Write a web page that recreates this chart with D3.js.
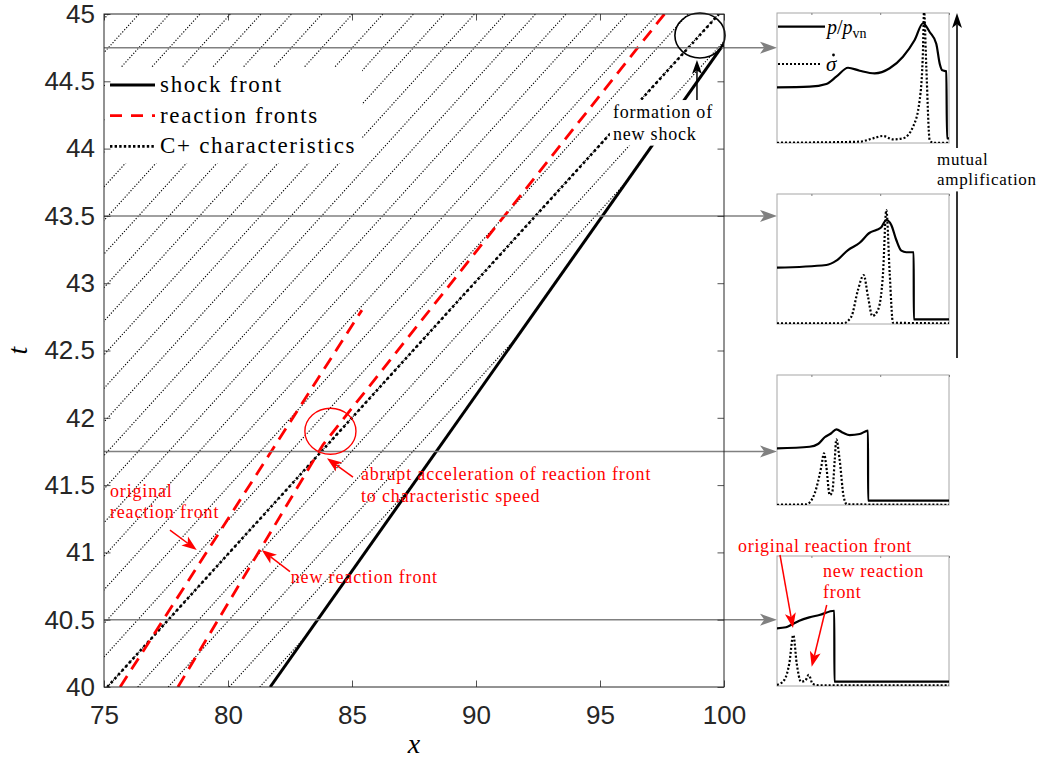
<!DOCTYPE html>
<html>
<head>
<meta charset="utf-8" />
<title>reaction fronts</title>
<script src="https://d3js.org/d3.v7.min.js"></script>
<style>
  body { margin: 0; background: #fff; }
</style>
</head>
<body>
<div id="chart"></div>
<script>
// ---- main x-t diagram ----
const xTicks = [75, 80, 85, 90, 95, 100];
const tTicks = [40, 40.5, 41, 41.5, 42, 42.5, 43, 43.5, 44, 44.5, 45];

const shockX = [81.7, 100.0];
const shockT = [40.0, 44.78];
const cPlusX = [75.13, 99.8];
const cPlusT = [40.0, 45.0];
const originalFrontX = [75.65, 85.4];
const originalFrontT = [40.0, 42.8];
const newFrontX = [77.98, 83.83, 97.6];
const newFrontT = [40.0, 41.8, 45.0];

// thin C+ characteristics: x where each crosses t = 40 and t = 45
const hatchX40 = [50.53, 51.76, 52.99, 54.22, 55.45, 56.68, 57.91, 59.14, 60.37, 61.60,
                  62.83, 64.06, 65.29, 66.52, 67.75, 68.98, 70.21, 71.44, 72.67, 73.90,
                  75.13, 76.36, 77.59, 78.82, 80.05, 81.28];
const hatchX45 = [75.18, 76.41, 77.64, 78.87, 80.10, 81.33, 82.56, 83.79, 85.02, 86.25,
                  87.48, 88.71, 89.94, 91.17, 92.40, 93.63, 94.86, 96.09, 97.32, 98.55,
                  99.78, 101.0, 102.2, 103.5, 104.7, 105.9];

// times of the four profiles
const insetTimes = [44.75, 43.5, 41.75, 40.5];

// ---- profiles (x relative, normalised values) ----
const pX1 = [-5, -0.25, 2.17, 3.62, 5.32, 7.02, 9.2, 11.38, 13.31, 15.01, 16.22, 17.19, 18.15, 18.65, 19.03, 19.61, 19.71, 20];
const p1  = [0.428, 0.433, 0.454, 0.51, 0.579, 0.556, 0.536, 0.575, 0.664, 0.792, 0.921, 0.854, 0.764, 0.61, 0.559, 0.552, 0.035, 0.035];
const sX1 = [-5, 7.02, 8.95, 10.41, 11.86, 13.31, 14.77, 15.74, 16.22, 16.37, 16.70, 17.19, 17.67, 20];
const s1  = [0.002, 0.01, 0.036, 0.054, 0.028, 0.036, 0.125, 0.331, 0.715, 1.02, 0.587, 0.023, 0.002, 0.002];

const pX2 = [-5, 2.17, 3.62, 5.32, 7.02, 8.47, 9.43, 10.16, 10.89, 11.61, 12.34, 13.07, 13.79, 14.87, 14.88, 20];
const p2  = [0.433, 0.454, 0.487, 0.569, 0.625, 0.702, 0.723, 0.744, 0.8, 0.762, 0.646, 0.564, 0.552, 0.552, 0.036, 0.036];
const sX2 = [-5, 4.59, 5.8, 6.77, 7.6, 8.23, 8.85, 9.68, 10.41, 10.89, 11.38, 11.86, 20];
const s2  = [0.005, 0.005, 0.056, 0.262, 0.377, 0.21, 0.062, 0.108, 0.39, 0.877, 0.39, 0.01, 0.005];

const pX3 = [-5, -0.25, 0.96, 1.93, 2.89, 3.62, 4.59, 5.57, 7.02, 8.23, 8.24, 20];
const p3  = [0.436, 0.448, 0.469, 0.521, 0.552, 0.582, 0.556, 0.538, 0.546, 0.572, 0.033, 0.033];
const sX3 = [-5, -0.74, 0.48, 1.44, 1.83, 2.17, 2.66, 3.04, 3.39, 3.62, 4.11, 4.69, 5.17, 20];
const s3  = [0.002, 0.005, 0.09, 0.295, 0.398, 0.295, 0.077, 0.102, 0.346, 0.505, 0.346, 0.064, 0.005, 0.002];

const pX4 = [-5, -3.69, -2.97, -1.76, -0.31, 1.15, 3.33, 3.34, 20];
const p4  = [0.444, 0.452, 0.469, 0.502, 0.528, 0.546, 0.579, 0.033, 0.033];
const sX4 = [-5, -3.94, -3.21, -2.63, -2.14, -1.51, -0.89, -0.39, 0.19, 1.15, 20];
const s4  = [0.008, 0.046, 0.175, 0.392, 0.175, 0.033, 0.041, 0.085, 0.015, 0.005, 0.005];

const insetTicks = [0, 10, 20];

const W = 1048, H = 765;
const axColor = "#262626";
const serif = "'Liberation Serif', 'Times New Roman', serif";

const svg = d3.select("#chart").append("svg")
    .attr("width", W).attr("height", H)
    .style("background", "#fff");

const xs = d3.scaleLinear().domain([75, 100]).range([104, 724]);
const ts = d3.scaleLinear().domain([40, 45]).range([687, 14]);
const line = d3.line().x(d => xs(d[0])).y(d => ts(d[1]));
const zip = (a, b) => a.map((v, i) => [v, b[i]]);

// clip: inside axes and behind the shock
svg.append("clipPath").attr("id", "behindShock")
  .append("path")
    .attr("d", line([[75, 40], [shockX[0], shockT[0]], [shockX[1], shockT[1]], [100, 45], [75, 45]]) + "Z");
svg.append("clipPath").attr("id", "axesClip")
  .append("rect")
    .attr("x", xs(75)).attr("y", ts(45))
    .attr("width", xs(100) - xs(75)).attr("height", ts(40) - ts(45));

// thin characteristics
svg.append("g").attr("clip-path", "url(#behindShock)")
  .selectAll("path")
  .data(hatchX40.map((x, i) => [[x, 40], [hatchX45[i], 45]]))
  .enter().append("path")
    .attr("d", line)
    .attr("fill", "none")
    .attr("stroke", "#000")
    .attr("stroke-width", 1.15)
    .attr("stroke-dasharray", "1.2 1.7");

// arrow helper (vback style head)
function arrow(g, x1, y1, x2, y2, color, sw, len, wid) {
  const a = Math.atan2(y2 - y1, x2 - x1);
  const c = Math.cos(a), s = Math.sin(a);
  const pt = (u, v) => [x2 + u * c - v * s, y2 + u * s + v * c];
  const notch = pt(-len * 0.75, 0);
  g.append("line")
    .attr("x1", x1).attr("y1", y1).attr("x2", notch[0]).attr("y2", notch[1])
    .attr("stroke", color).attr("stroke-width", sw);
  g.append("path")
    .attr("d", "M" + [pt(0, 0), pt(-len, -wid / 2), notch, pt(-len, wid / 2)].join("L") + "Z")
    .attr("fill", color).attr("stroke", "none");
}

const clipped = svg.append("g").attr("clip-path", "url(#axesClip)");

// C+ characteristic (thick dotted)
clipped.append("path")
  .attr("d", line(zip(cPlusX, cPlusT)))
  .attr("fill", "none").attr("stroke", "#000")
  .attr("stroke-width", 2.6).attr("stroke-dasharray", "2.6 2.8");

// reaction fronts
[zip(originalFrontX, originalFrontT), zip(newFrontX, newFrontT)].forEach(d => {
  clipped.append("path")
    .attr("d", line(d))
    .attr("fill", "none").attr("stroke", "#ff0000")
    .attr("stroke-width", 2.8).attr("stroke-dasharray", "13 8");
});

// shock front
clipped.append("path")
  .attr("d", line(zip(shockX, shockT)))
  .attr("fill", "none").attr("stroke", "#000")
  .attr("stroke-width", 3);

// grey guide arrows to the profiles
const insetLeft = 777, insetW = 172, insetH = 130;
const insetTop = [13, 194, 375, 556];
const guides = svg.append("g");
insetTimes.forEach(t => {
  arrow(guides, xs(75), ts(t), insetLeft, ts(t), "#808080", 1.5, 17, 12);
});

// legend
const leg = svg.append("g");
leg.append("rect").attr("x", 105).attr("y", 67).attr("width", 257).attr("height", 96).attr("fill", "#fff");
const legItems = [
  {label: "shock front", color: "#000", w: 3, dash: null},
  {label: "reaction fronts", color: "#ff0000", w: 2.8, dash: "12 9"},
  {label: "C+ characteristics", color: "#000", w: 2.6, dash: "2.4 2.2"}
];
legItems.forEach((d, i) => {
  const y = 85 + i * 30.7;
  leg.append("line").attr("x1", 110).attr("x2", 155).attr("y1", y).attr("y2", y)
    .attr("stroke", d.color).attr("stroke-width", d.w)
    .attr("stroke-dasharray", d.dash);
  leg.append("text").attr("x", 160).attr("y", y + 7)
    .attr("font-family", serif).attr("font-size", 23).attr("letter-spacing", 1.7)
    .attr("fill", "#000").text(d.label);
});

// annotations in the x-t plane
const ann = svg.append("g");
ann.append("ellipse")
  .attr("cx", xs(84.13)).attr("cy", ts(41.9))
  .attr("rx", xs(84.13 + 1.03) - xs(84.13)).attr("ry", ts(41.9) - ts(41.9 + 0.171))
  .attr("fill", "none").attr("stroke", "#ff0000").attr("stroke-width", 1.4);
ann.append("ellipse")
  .attr("cx", xs(99.03)).attr("cy", ts(44.84))
  .attr("rx", xs(99.03 + 1.01) - xs(99.03)).attr("ry", ts(44.84) - ts(44.84 + 0.167))
  .attr("fill", "none").attr("stroke", "#000").attr("stroke-width", 1.6);

function note(g, lines, x, y, color, size, ls, bg) {
  const t = g.append("text").attr("x", x).attr("y", y)
    .attr("font-family", serif).attr("font-size", size)
    .attr("letter-spacing", ls).attr("fill", color);
  lines.forEach((s, i) => t.append("tspan").attr("x", x).attr("dy", i ? size * 1.2 : 0).text(s));
  if (bg) {
    const b = t.node().getBBox();
    g.insert("rect", "text").attr("x", b.x - 3).attr("y", b.y - 2)
      .attr("width", b.width + 6).attr("height", b.height + 4).attr("fill", "#fff");
  }
}

const shockNote = svg.append("g");
note(shockNote, ["formation of", "new shock"], xs(95.52), ts(44.227), "#000", 18, 0.8, true);
arrow(ann, xs(98.91), ts(44.361), xs(98.91), ts(44.658), "#000", 1.5, 14, 10);

note(ann, ["abrupt acceleration of reaction front", "to characteristic speed"], xs(85.36), ts(41.538), "#ff0000", 18, 0.85, false);
arrow(ann, xs(85.04), ts(41.56), xs(83.99), ts(41.70), "#ff0000", 1.5, 15, 11);
note(ann, ["new reaction front"], xs(82.53), ts(40.773), "#ff0000", 18, 0.85, false);
arrow(ann, xs(82.5), ts(40.857), xs(81.36), ts(41.018), "#ff0000", 1.5, 15, 11);
note(ann, ["original", "reaction front"], xs(75.24), ts(41.414), "#ff0000", 18, 0.85, false);
arrow(ann, xs(77.66), ts(41.166), xs(78.74), ts(41.018), "#ff0000", 1.5, 15, 11);

// axes box, ticks, labels
const axG = svg.append("g").attr("color", axColor);
function styleAxis(g) {
  g.select(".domain").remove();
  g.selectAll(".tick line").attr("stroke-width", 0.8);
  g.selectAll("text").attr("font-family", "'Liberation Sans', Arial, sans-serif")
    .attr("font-size", 26).attr("fill", axColor);
}
axG.append("g").attr("transform", `translate(0,${ts(40)})`)
  .call(d3.axisBottom(xs).tickValues(xTicks).tickSize(-6.5).tickPadding(19).tickFormat(d3.format("d")))
  .call(styleAxis);
axG.append("g").attr("transform", `translate(0,${ts(45)})`)
  .call(d3.axisTop(xs).tickValues(xTicks).tickSize(-6.5).tickFormat(""))
  .call(styleAxis);
axG.append("g").attr("transform", `translate(${xs(75)},0)`)
  .call(d3.axisLeft(ts).tickValues(tTicks).tickSize(-6.5).tickPadding(9).tickFormat(d => String(d)))
  .call(styleAxis);
axG.append("g").attr("transform", `translate(${xs(100)},0)`)
  .call(d3.axisRight(ts).tickValues(tTicks).tickSize(-6.5).tickFormat(""))
  .call(styleAxis);
axG.append("rect")
  .attr("x", xs(75)).attr("y", ts(45))
  .attr("width", xs(100) - xs(75)).attr("height", ts(40) - ts(45))
  .attr("fill", "none").attr("stroke", axColor).attr("stroke-width", 1);

svg.append("text")
  .attr("x", (xs(75) + xs(100)) / 2).attr("y", 753)
  .attr("text-anchor", "middle").attr("font-family", serif)
  .attr("font-style", "italic").attr("font-size", 28).text("x");
svg.append("text")
  .attr("transform", `translate(27,${(ts(40) + ts(45)) / 2}) rotate(-90)`)
  .attr("text-anchor", "middle").attr("font-family", serif)
  .attr("font-style", "italic").attr("font-size", 28).text("t");

// ---- profile insets ----
const ix = d3.scaleLinear().domain([-5, 20]).range([0, insetW]);
const iy = d3.scaleLinear().domain([0, 1]).range([insetH, 0]);
const profLine = d3.line().x(d => ix(d[0])).y(d => iy(d[1])).curve(d3.curveMonotoneX);
const profiles = [[pX1, p1, sX1, s1], [pX2, p2, sX2, s2], [pX3, p3, sX3, s3], [pX4, p4, sX4, s4]];

profiles.forEach((pr, k) => {
  const g = svg.append("g").attr("transform", `translate(${insetLeft},${insetTop[k]})`);
  g.append("clipPath").attr("id", "ic" + k)
    .append("rect").attr("width", insetW).attr("height", insetH);
  g.append("rect").attr("width", insetW).attr("height", insetH)
    .attr("fill", "#fff").attr("stroke", "#a6a6a6").attr("stroke-width", 1);
  g.append("g").call(d3.axisTop(ix).tickValues(insetTicks).tickSize(-2).tickFormat(""))
    .call(a => a.select(".domain").remove())
    .attr("color", "#808080");
  const c = g.append("g").attr("clip-path", `url(#ic${k})`);
  c.append("path").attr("d", profLine(zip(pr[2], pr[3])))
    .attr("fill", "none").attr("stroke", "#000").attr("stroke-width", 2.2)
    .attr("stroke-dasharray", "2 2");
  c.append("path").attr("d", profLine(zip(pr[0], pr[1])))
    .attr("fill", "none").attr("stroke", "#000").attr("stroke-width", 2.2);
});

// profile legend (first inset)
const pl = svg.append("g");
pl.append("line").attr("x1", 778).attr("x2", 825).attr("y1", 26.7).attr("y2", 26.7)
  .attr("stroke", "#000").attr("stroke-width", 2.2);
const pt1 = pl.append("text").attr("x", 827).attr("y", 33.5)
  .attr("font-family", serif).attr("font-size", 20);
pt1.append("tspan").attr("font-style", "italic").text("p");
pt1.append("tspan").text("/");
pt1.append("tspan").attr("font-style", "italic").text("p");
pt1.append("tspan").attr("font-size", 14).attr("dy", 4).text("vn");
pl.append("line").attr("x1", 778).attr("x2", 822).attr("y1", 64).attr("y2", 64)
  .attr("stroke", "#000").attr("stroke-width", 2.2).attr("stroke-dasharray", "2 2");
pl.append("text").attr("x", 826).attr("y", 71)
  .attr("font-family", serif).attr("font-size", 21).attr("font-style", "italic")
  .text("\u03C3");
pl.append("circle").attr("cx", 833.5).attr("cy", 55).attr("r", 1.4).attr("fill", "#000");

// mutual amplification
const mg = svg.append("g");
arrow(mg, 957, 358, 957, 13, "#000", 1.6, 15, 10);
note(mg, ["mutual", "amplification"], 937, 165, "#000", 17, 0.7, true);

// annotations of the last profile
const pa = svg.append("g");
note(pa, ["original reaction front"], 738, 551.7, "#ff0000", 18, 0.7, false);
note(pa, ["new reaction", "front"], 823, 576.7, "#ff0000", 18, 0.7, false);
arrow(pa, 780, 555, 793, 628, "#ff0000", 1.5, 15, 11);
arrow(pa, 826.7, 605, 811.7, 666.7, "#ff0000", 1.5, 15, 11);
</script>
</body>
</html>
